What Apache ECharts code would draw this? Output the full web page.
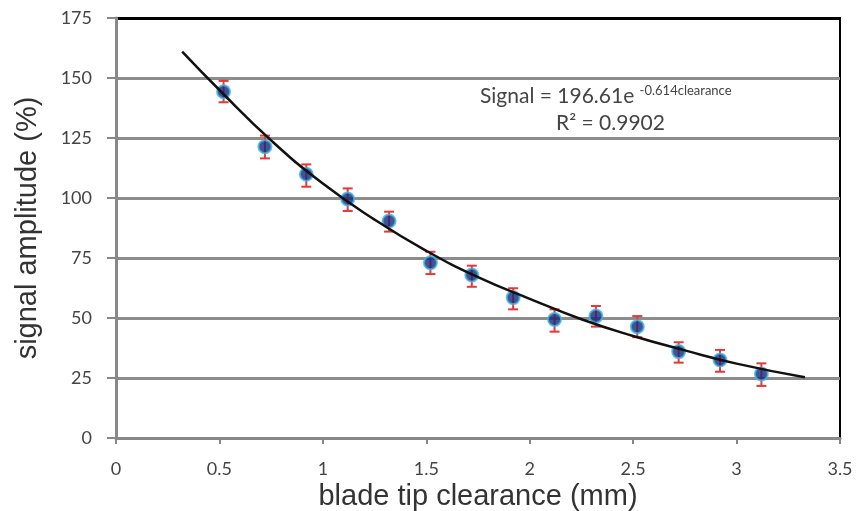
<!DOCTYPE html>
<html>
<head>
<meta charset="utf-8">
<script src="https://cdn.jsdelivr.net/npm/echarts@6/dist/echarts.min.js"></script>
<style>
  html, body { margin: 0; padding: 0; background: #fff; }
  #main { width: 857px; height: 511px; }
</style>
</head>
<body>
<div id="main"></div>
<script>
// measured points (clearance in mm, amplitude in %)
const clearance = [0.52, 0.72, 0.92, 1.12, 1.32, 1.52, 1.72, 1.92, 2.12, 2.32, 2.52, 2.72, 2.92, 3.12];
const amplitude = [144.3, 121.4, 109.9, 99.6, 90.4, 73, 67.9, 58.5, 49.4, 50.8, 46.4, 36, 32.5, 26.7];
const errLow = [139.9, 116.5, 104.7, 94.6, 86, 68.3, 63, 53.6, 44.3, 46.4, 42, 31.4, 27.6, 21.7];
const errHigh = [148.8, 126, 114, 104, 94.3, 77.6, 71.8, 62.4, 53.6, 55, 50.8, 39.9, 36.7, 31.1];

// fitted trend line
const fitX = [0.32, 0.5, 0.75, 1.0, 1.25, 1.5, 1.75, 2.0, 2.25, 2.5, 2.75, 3.0, 3.33];
const fitY = [161, 145, 124, 106, 91, 78, 67, 58, 49.5, 42.5, 36.5, 31, 25.3];

const yTicks = [0, 25, 50, 75, 100, 125, 150, 175];
const xTicks = [0, 0.5, 1, 1.5, 2, 2.5, 3, 3.5];

const chart = echarts.init(document.getElementById('main'));

const points = clearance.map((x, i) => [x, amplitude[i]]);
const bars = clearance.map((x, i) => [x, errLow[i], errHigh[i]]);
const fit = fitX.map((x, i) => [x, fitY[i]]);

// gray gridlines, black one on top (chart border)
const gridColors = yTicks.map((v, i) => (i === yTicks.length - 1 ? '#000' : '#8c8c8c'));

const option = {
  animation: false,
  backgroundColor: '#fff',
  grid: {
    left: 116, right: 17, top: 18, bottom: 73,
    outerBoundsMode: 'none',
    show: true, borderColor: '#000', borderWidth: 2
  },
  xAxis: {
    type: 'value',
    min: 0,
    max: 3.5,
    interval: 0.5,
    name: 'blade tip clearance (mm)',
    nameLocation: 'middle',
    nameGap: 40,
    nameTextStyle: { fontFamily: 'Liberation Sans', fontSize: 29, color: '#333' },
    axisLine: { onZero: false, lineStyle: { color: '#888', width: 3 } },
    axisTick: { show: true, length: 6, lineStyle: { color: '#888', width: 2 } },
    axisLabel: { fontFamily: 'Lato', fontSize: 18, color: '#444', margin: 22,
      formatter: v => xTicks.includes(v) ? String(v) : '' },
    splitLine: { show: false }
  },
  yAxis: {
    type: 'value',
    min: 0,
    max: 175,
    interval: 25,
    name: 'signal amplitude (%)',
    nameLocation: 'middle',
    nameGap: 74,
    nameTextStyle: { fontFamily: 'Liberation Sans', fontSize: 29, color: '#333' },
    axisLine: { show: true, lineStyle: { color: '#888', width: 3 } },
    axisTick: { show: true, inside: false, length: 9, lineStyle: { color: '#888', width: 2 } },
    axisLabel: { fontFamily: 'Lato', fontSize: 18, color: '#444', margin: 24,
      formatter: v => yTicks.includes(v) ? String(v) : '' },
    splitLine: { show: true, lineStyle: { color: gridColors, width: 3 } }
  },
  graphic: [
    {
      type: 'text',
      left: 480,
      top: 84,
      style: {
        rich: {
          m: { fontFamily: 'Lato', fontSize: 21, fill: '#444' },
          s: { fontFamily: 'Lato', fontSize: 13, fill: '#444', verticalAlign: 'top', padding: [0, 0, 12, 0] }
        },
        text: '{m|Signal = 196.61e }{s|-0.614clearance}'
      }
    },
    {
      type: 'text',
      left: 556,
      top: 113,
      style: {
        text: 'R² = 0.9902',
        fontFamily: 'Lato',
        fontSize: 21,
        fill: '#444'
      }
    }
  ],
  series: [
    {
      type: 'custom',
      name: 'error',
      z: 3,
      data: bars,
      renderItem: (params, api) => {
        const x = api.value(0);
        const lo = api.coord([x, api.value(1)]);
        const hi = api.coord([x, api.value(2)]);
        const cap = 5;
        const style = { stroke: '#e53935', lineWidth: 2 };
        return {
          type: 'group',
          children: [
            { type: 'line', shape: { x1: lo[0], y1: lo[1], x2: hi[0], y2: hi[1] }, style },
            { type: 'line', shape: { x1: lo[0] - cap, y1: lo[1], x2: lo[0] + cap, y2: lo[1] }, style },
            { type: 'line', shape: { x1: hi[0] - cap, y1: hi[1], x2: hi[0] + cap, y2: hi[1] }, style }
          ]
        };
      }
    },
    {
      type: 'scatter',
      name: 'data',
      z: 4,
      data: points,
      symbolSize: 13,
      itemStyle: { color: '#13287a', borderColor: '#3fb6e6', borderWidth: 2 }
    },
    {
      type: 'line',
      name: 'fit',
      z: 5,
      data: fit,
      smooth: true,
      showSymbol: false,
      lineStyle: { color: '#111', width: 2.5 }
    }
  ]
};

chart.setOption(option);
</script>
</body>
</html>
